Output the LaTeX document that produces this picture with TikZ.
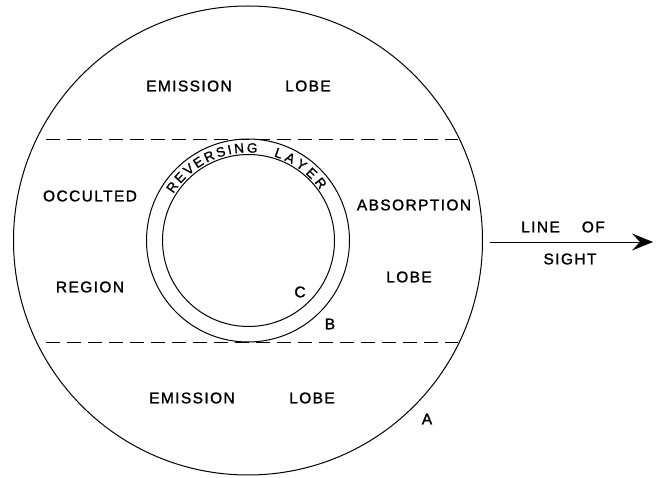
\documentclass[tikz,border=0pt]{standalone}
\usepackage{fontspec}
\newfontfamily\lab{Liberation Sans}[LetterSpace=9,FakeBold=1.5]
\newfontfamily\rlfont{Liberation Sans}[FakeBold=1.2]
\usetikzlibrary{arrows.meta,decorations.text}
\begin{document}
\begin{tikzpicture}[x=1pt,y=-1pt,
  line width=1pt,
  lbl/.style={inner sep=0pt, font=\fontsize{15.5}{18}\lab},
  dashline/.style={dash pattern=on 14pt off 7pt},
  ray/.style={line width=0.8pt,-{Stealth[length=21pt,width=17pt,inset=8pt]}}]
\useasboundingbox (0,0) rectangle (659,478);
% circles
\coordinate (O) at (248,240.5);
\draw (O) circle[radius=234.5pt];
\draw (O) circle[radius=101.5pt];
\draw (248.5,240.5) circle[radius=86pt];
% dashed lines
\coordinate (dl1) at (46,139.5);
\coordinate (dr1) at (458,139.5);
\coordinate (dl2) at (46,342.5);
\coordinate (dr2) at (458,342.5);
\draw[dashline] (dl1) -- (dr1);
\draw[dashline] (dl2) -- (dr2);
% reversing layer text
\path[decorate, decoration={text along path, text align={fit to path},
  text={|\fontsize{13.5}{15}\rlfont|REVERSING}}]
  (O) ++(148:88pt) arc[start angle=148, end angle=84, radius=88pt];
\path[decorate, decoration={text along path, text align={fit to path},
  text={|\fontsize{13.5}{15}\rlfont|LAYER}}]
  (O) ++(73:88pt) arc[start angle=73, end angle=35, radius=88pt];
% labels
\node[lbl] (em1) at (189,86) {EMISSION};
\node[lbl] (lb1) at (308,86) {LOBE};
\node[lbl] (occ) at (90,196) {OCCULTED};
\node[lbl] (reg) at (90,287) {REGION};
\node[lbl] (abs) at (414,205) {ABSORPTION};
\node[lbl] (lb2) at (409,277) {LOBE};
\node[lbl] (em2) at (192,398) {EMISSION};
\node[lbl] (lb3) at (312,398) {LOBE};
\node[lbl] (lc) at (300,292) {C};
\node[lbl] (lbB) at (330,324) {B};
\node[lbl] (la) at (427,419) {A};
\node[lbl] (lo) at (563,227) {LINE\hspace{22pt}OF};
\node[lbl] (si) at (570,259) {SIGHT};
% line of sight arrow
\coordinate (ls0) at (490,242);
\coordinate (ls1) at (653,242);
\draw[ray] (ls0) -- (ls1);
\end{tikzpicture}
\end{document}
